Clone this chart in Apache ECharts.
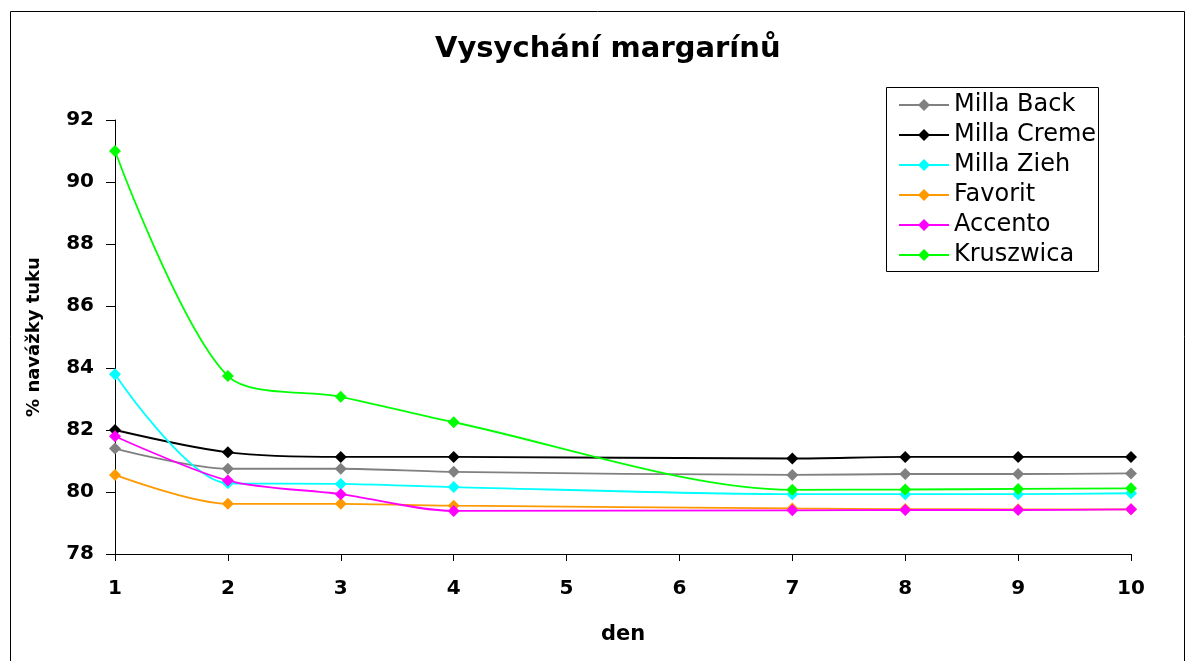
<!DOCTYPE html>
<html>
<head>
<meta charset="utf-8">
<script src="https://cdn.jsdelivr.net/npm/echarts@6/dist/echarts.min.js"></script>
<style>
html,body{margin:0;padding:0;background:#fff;}
#chart{width:1186px;height:661px;}
</style>
</head>
<body>
<div id="chart"></div>
<script>
var days = [1, 2, 3, 4, 7, 8, 9, 10];
var seriesNames = ['Milla Back', 'Milla Creme', 'Milla Zieh', 'Favorit', 'Accento', 'Kruszwica'];
var millaBack  = [81.4, 80.75, 80.75, 80.65, 80.55, 80.58, 80.58, 80.6];
var millaCreme = [82.0, 81.28, 81.13, 81.13, 81.08, 81.13, 81.13, 81.13];
var millaZieh  = [83.8, 80.28, 80.26, 80.16, 79.93, 79.93, 79.93, 79.96];
var favorit    = [80.55, 79.62, 79.62, 79.56, 79.47, 79.45, 79.44, 79.44];
var accento    = [81.8, 80.37, 79.93, 79.39, 79.41, 79.42, 79.42, 79.44];
var kruszwica  = [91.0, 83.74, 83.07, 82.25, 80.07, 80.08, 80.1, 80.12];
var colors = ['#808080', '#000000', '#00FFFF', '#FF9900', '#FF00FF', '#00FF00'];
var allValues = [millaBack, millaCreme, millaZieh, favorit, accento, kruszwica];

var FONT = 'DejaVu Sans';

function pairs(vals) {
  return days.map(function (d, i) { return [d, vals[i]]; });
}

var chart = echarts.init(document.getElementById('chart'), null, {renderer: 'canvas'});
chart.setOption({
  backgroundColor: '#ffffff',
  animation: false,
  title: {
    text: 'Vysychání margarínů',
    left: 435,
    top: 35,
    padding: 0,
    textStyle: {fontFamily: FONT, fontSize: 29, fontWeight: 'bold', color: '#000'}
  },
  graphic: [
    {type: 'rect', silent: true, z: -1,
     shape: {x: 10.5, y: 11.5, width: 1174, height: 700},
     style: {fill: null, stroke: '#000', lineWidth: 1}},
    {type: 'rect', silent: true, z: 1,
     shape: {x: 886.5, y: 87.5, width: 212, height: 184},
     style: {fill: null, stroke: '#000', lineWidth: 1}}
  ],
  legend: {
    orient: 'vertical',
    left: 898,
    top: 93,
    padding: 0,
    itemWidth: 50,
    itemHeight: 15,
    itemGap: 6,
    data: seriesNames,
    textStyle: {fontFamily: FONT, fontSize: 24, lineHeight: 24, color: '#000'}
  },
  grid: {left: 115, right: 55, top: 120, bottom: 107, containLabel: false},
  xAxis: {
    type: 'value',
    min: 1, max: 10, interval: 1,
    name: 'den',
    nameLocation: 'middle',
    nameGap: 70,
    nameTextStyle: {fontFamily: FONT, fontSize: 21, fontWeight: 'bold', color: '#000'},
    axisLine: {show: true, lineStyle: {color: '#000', width: 1}},
    axisTick: {show: true, inside: false, length: 7, lineStyle: {color: '#000'}},
    axisLabel: {fontFamily: FONT, fontSize: 20, fontWeight: 'bold', color: '#000', margin: 25},
    splitLine: {show: false}
  },
  yAxis: {
    type: 'value',
    min: 78, max: 92, interval: 2,
    name: '% navážky tuku',
    nameLocation: 'middle',
    nameGap: 72,
    nameRotate: 90,
    nameTextStyle: {fontFamily: FONT, fontSize: 18, fontWeight: 'bold', color: '#000'},
    axisLine: {show: true, lineStyle: {color: '#000', width: 1}},
    axisTick: {show: true, inside: false, length: 9, lineStyle: {color: '#000'}},
    axisLabel: {fontFamily: FONT, fontSize: 20, fontWeight: 'bold', color: '#000', margin: 21},
    splitLine: {show: false}
  },
  series: seriesNames.map(function (name, i) {
    return {
      name: name,
      type: 'line',
      data: pairs(allValues[i]),
      smooth: 0.3,
      symbol: 'diamond',
      symbolSize: 12,
      showSymbol: true,
      color: colors[i],
      itemStyle: {color: colors[i]},
      lineStyle: {color: colors[i], width: 1.8}
    };
  })
});
</script>
</body>
</html>
